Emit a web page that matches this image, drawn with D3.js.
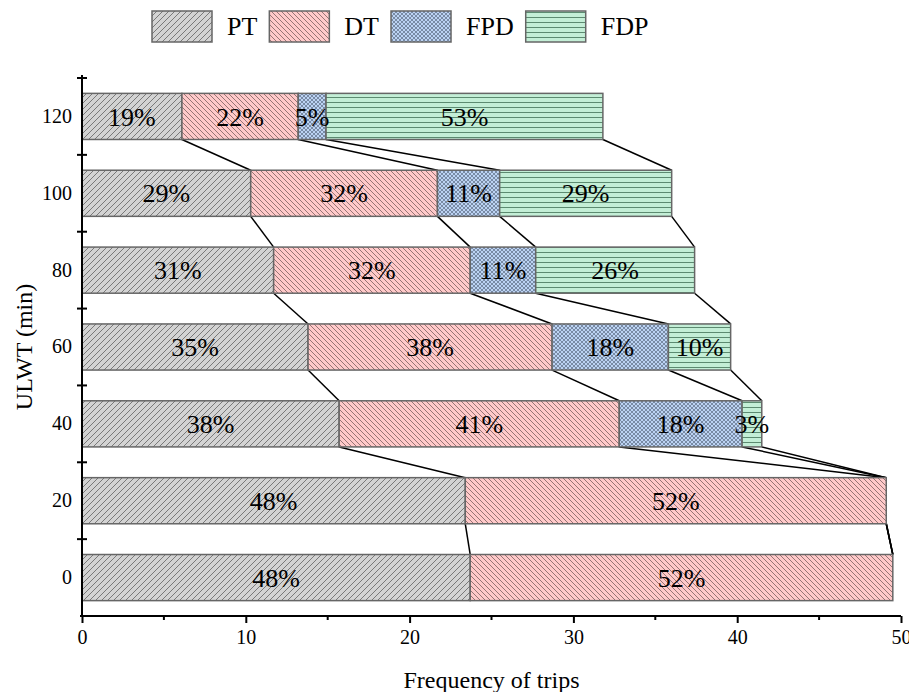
<!DOCTYPE html>
<html>
<head>
<meta charset="utf-8">
<script src="https://cdn.jsdelivr.net/npm/d3@7"></script>
<style>
  body { margin: 0; background: #fff; }
</style>
</head>
<body>
<div id="chart"></div>
<script>
// data
const categories = ["0", "20", "40", "60", "80", "100", "120"];
const seriesNames = ["PT", "DT", "FPD", "FDP"];
const ptValues  = [23.7, 23.4, 15.7, 13.8, 11.7, 10.3, 6.1];
const dtValues  = [25.8, 25.7, 17.1, 14.9, 12.0, 11.4, 7.1];
const fpdValues = [0, 0, 7.5, 7.1, 4.0, 3.8, 1.7];
const fdpValues = [0, 0, 1.2, 3.8, 9.7, 10.5, 16.9];
const xTicks = [0, 10, 20, 30, 40, 50];

const serif = "'Liberation Serif', 'Times New Roman', serif";

let svgWidth = 909;
let svgHeight = 692;
let margin = { top: 78, right: 8, bottom: 76, left: 82 };

let svg = d3.select("#chart").append("svg")
    .attr("width", svgWidth)
    .attr("height", svgHeight);

// patterns
let defs = svg.append("defs");
function addPattern(id, size, fill, stroke, d, sw) {
    let p = defs.append("pattern")
        .attr("id", id)
        .attr("patternUnits", "userSpaceOnUse")
        .attr("width", size).attr("height", size);
    p.append("rect").attr("width", size).attr("height", size).attr("fill", fill);
    p.append("path").attr("d", d).attr("stroke", stroke).attr("stroke-width", sw).attr("fill", "none");
}
addPattern("pat-PT", 6, "#d3d3d3", "#6e6e6e", "M0,6L6,0M-1,1L1,-1M5,7L7,5", 0.9);
addPattern("pat-DT", 5, "#ffc9c9", "#8a6c6c", "M0,0L5,5M-1,4L1,6M4,-1L6,1", 0.9);
addPattern("pat-FPD", 4, "#bcd3f3", "#687890", "M0,0L4,4M0,4L4,0", 0.8);
addPattern("pat-FDP", 5, "#c3eed6", "#5c8a70", "M0,2.5L5,2.5", 1);

let rows = categories.map((c, i) => {
    let vals = [ptValues[i], dtValues[i], fpdValues[i], fdpValues[i]];
    let total = d3.sum(vals);
    let cum = d3.cumsum(vals);
    return { cat: c, vals: vals, cum: Array.from(cum), total: total };
});

let x = d3.scaleLinear()
    .domain([0, 50])
    .range([margin.left, svgWidth - margin.right]);

let y = d3.scaleBand()
    .domain(categories.slice().reverse())
    .range([margin.top, svgHeight - margin.bottom])
    .paddingInner(0.4)
    .paddingOuter(0.2);

let bh = y.bandwidth();

// connector lines between neighbouring bars
let links = [];
for (let i = 1; i < rows.length; i++) {
    let upper = rows[i], lower = rows[i - 1];
    for (let k = 0; k < 4; k++) {
        links.push({
            x1: x(upper.cum[k]), y1: y(upper.cat) + bh,
            x2: x(lower.cum[k]), y2: y(lower.cat)
        });
    }
}
svg.append("g").selectAll("line")
    .data(links)
    .enter().append("line")
    .attr("x1", d => d.x1).attr("y1", d => d.y1)
    .attr("x2", d => d.x2).attr("y2", d => d.y2)
    .attr("stroke", "#000")
    .attr("stroke-width", 1.5);

// stacked segments
let segs = [];
rows.forEach(r => {
    r.vals.forEach((v, k) => {
        if (v > 0) {
            segs.push({ cat: r.cat, name: seriesNames[k], x0: r.cum[k] - v, x1: r.cum[k],
                pct: Math.round(v / r.total * 100) + "%" });
        }
    });
});

svg.append("g").selectAll("rect")
    .data(segs)
    .enter().append("rect")
    .attr("x", d => x(d.x0))
    .attr("y", d => y(d.cat))
    .attr("width", d => x(d.x1) - x(d.x0))
    .attr("height", bh)
    .attr("fill", d => "url(#pat-" + d.name + ")")
    .attr("stroke", "#666")
    .attr("stroke-width", 1.5);

svg.append("g").selectAll("text")
    .data(segs)
    .enter().append("text")
    .attr("x", d => (x(d.x0) + x(d.x1)) / 2)
    .attr("y", d => y(d.cat) + bh / 2)
    .attr("dy", "0.35em")
    .attr("text-anchor", "middle")
    .style("font-family", serif)
    .style("font-size", "26px")
    .style("fill", "#000")
    .text(d => d.pct);

// x axis
let xAxisY = svgHeight - margin.bottom;
let xAxis = svg.append("g")
    .attr("transform", `translate(0, ${xAxisY})`)
    .call(d3.axisBottom(x).tickValues(xTicks).tickSize(7).tickPadding(7).tickFormat(d3.format("d")));
xAxis.select(".domain").attr("stroke", "#000").attr("stroke-width", 2)
    .attr("d", `M${margin.left - 2},0H${x(50)}`);
xAxis.selectAll(".tick line").attr("stroke", "#000").attr("stroke-width", 2);
xAxis.selectAll(".tick text").style("font-size", "20px").style("font-family", serif).style("fill", "#000");

svg.append("g").selectAll("line")
    .data(d3.range(5, 50, 10))
    .enter().append("line")
    .attr("x1", d => x(d)).attr("x2", d => x(d))
    .attr("y1", xAxisY).attr("y2", xAxisY + 4)
    .attr("stroke", "#000").attr("stroke-width", 2);

// y axis
let yAxis = svg.append("g")
    .attr("transform", `translate(${margin.left}, 0)`)
    .call(d3.axisLeft(y).tickSize(0).tickPadding(10));
yAxis.select(".domain").attr("stroke", "#000").attr("stroke-width", 2)
    .attr("d", `M0,${margin.top - 3}V${xAxisY}`);
yAxis.selectAll(".tick text").style("font-size", "20px").style("font-family", serif).style("fill", "#000");

svg.append("g").selectAll("line")
    .data(d3.range(0, categories.length))
    .enter().append("line")
    .attr("x1", margin.left - 5).attr("x2", margin.left + 5)
    .attr("y1", d => margin.top + d * y.step())
    .attr("y2", d => margin.top + d * y.step())
    .attr("stroke", "#000").attr("stroke-width", 2);

// axis titles
svg.append("text")
    .attr("x", (x(0) + x(50)) / 2)
    .attr("y", 688)
    .attr("text-anchor", "middle")
    .style("font-family", serif)
    .style("font-size", "24px")
    .text("Frequency of trips");

svg.append("text")
    .attr("transform", `translate(32, ${(margin.top + xAxisY) / 2}) rotate(-90)`)
    .attr("text-anchor", "middle")
    .style("font-family", serif)
    .style("font-size", "24px")
    .text("ULWT (min)");

// legend
let legend = svg.append("g");
let lx = 152;
seriesNames.forEach(name => {
    legend.append("rect")
        .attr("x", lx).attr("y", 11)
        .attr("width", 60).attr("height", 31)
        .attr("fill", "url(#pat-" + name + ")")
        .attr("stroke", "#666").attr("stroke-width", 1.5);
    let t = legend.append("text")
        .attr("x", lx + 75).attr("y", 35)
        .style("font-family", serif)
        .style("font-size", "26px")
        .text(name);
    lx = lx + 75 + t.node().getComputedTextLength() + 12;
});
</script>
</body>
</html>
